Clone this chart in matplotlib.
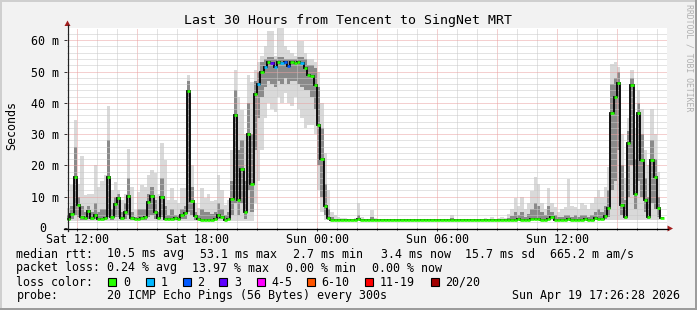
import numpy as np
import matplotlib
matplotlib.use("Agg")
import matplotlib.pyplot as plt
from matplotlib.patches import Rectangle, Polygon
from matplotlib.lines import Line2D

nan = np.nan

# ---------------------------------------------------------------- data
START_HOUR = 11.5     # Sat 11:30
STEP_MIN = 10         # one value per 10 minutes

# median rtt (ms)
median_sat_day = [2.8, 4.5, 16.4, 7.5, 3.5, 3.2, 5.4, 3.3, 4.0, 3.0,
                  3.0, 3.3, 16.2, 3.5, 7.7, 9.5, 3.3, 5.2, 10.2, 3.2,
                  3.0, 3.0, 3.2, 3.5, 8.4, 10.2, 5.2, 3.3, 10.0, 3.0,
                  3.0, 3.0, 3.2, 3.0, 4.0, 4.9, 43.8, 8.7, 3.7]
median_sat_eve = [3.0, 2.7, 2.7, 2.7, 2.7, 2.8, 4.3, 3.5, 2.7, 2.8,
                  9.4, 36.0, 9.0, 19.0, 5.0, 30.0, 14.0, 42.8, 46.0, 50.0,
                  51.5, 52.9, 52.8, 51.5, 52.9, 52.7, 52.9, 51.6, 52.9, 52.8,
                  52.9, 52.6, 51.0, 49.0, 48.5, 45.7, 33.0, 22.0, 6.9, 3.2]
median_night = [2.7, 2.7, 2.7, 2.7, 2.7, 2.7, 2.7, 2.7, 2.8, 2.7,
                2.7, 2.7, 2.7, 2.7, 2.7, 2.7, 2.7, 2.7, 2.7, 2.7,
                2.7, 2.7, 2.7, 2.7, 2.7, 2.7, 2.7, 2.7, 2.7, 2.7,
                2.7, 2.7, 2.7, 2.7, 2.7, 2.7, 2.7, 2.7, 2.7, 2.7,
                2.7, 2.7, 2.7, 2.7, 2.7, 2.7, 2.7, 2.7, 2.7, 2.7,
                2.7, 2.7, 2.7, 2.7, 2.7, 2.7, 2.8, 2.7, 2.7, 2.7,
                2.9, 3.0, 2.8, 2.7, 2.7, 2.9]
median_sun_noon = [3.4, 2.7, 2.7, 2.7, 2.7, 2.9, 2.7, 2.7, 2.7, 2.7,
                   2.9, 2.7, 2.7, 3.2, 2.8]
median_sun_pm = [3.0, 3.8, 6.3, 36.6, 41.9, 46.2, 7.3, 3.4, 27.2, 45.6,
                 11.0, 36.6, 21.7, 8.9, 3.6, 21.7, 16.4, 6.3, 3.2, nan]

# slowest ping (top of smoke)
hi_sat_day = [6.3, 13.7, 34.5, 14, 23, 10.5, 11, 11, 20, 13,
              15, 17, 39, 12, 14.8, 12, 9, 11, 25.4, 13,
              5.7, 11.6, 13.7, 13, 17, 18.5, 17.5, 11, 27, 21.7,
              9, 12.7, 9, 7.9, 12.7, 12.7, 49, 20, 8]
hi_sat_eve = [6.4, 12.8, 9.6, 11, 8.5, 9, 17, 12, 7.4, 9,
              25, 50.5, 42, 37.8, 30, 49, 46.8, 50.5, 53, 55,
              58, 63, 63, 55, 64, 64, 58, 57, 56, 55,
              59.6, 59.6, 56, 54, 54, 53, 50, 40, 24, 12]
hi_night = [5, 4, 3.5, 3.2, 3.2, 3.0, 3.0, 3.2, 8, 3.5,
            3.0, 3.0, 5.6, 3.2, 3.0, 3.0, 3.0, 3.0, 3.0, 3.0,
            3.0, 3.0, 3.0, 3.0, 3.0, 3.0, 3.0, 3.0, 3.0, 3.0,
            3.0, 3.0, 3.0, 3.0, 3.0, 3.0, 4.0, 3.0, 3.0, 3.0,
            3.0, 3.0, 3.0, 3.0, 3.0, 3.0, 3.2, 3.0, 3.5, 3.0,
            3.2, 3.5, 3.2, 4.5, 6, 9.5, 7, 10, 6, 8,
            11.7, 16.3, 14, 8, 6, 12.8]
hi_sun_noon = [8, 6.8, 5, 6, 6.8, 15.8, 7, 6.8, 6, 7.9,
               7.5, 6, 7.9, 10, 12]
hi_sun_pm = [10, 13, 19.6, 52.5, 53, 51.5, 30, 16, 35, 50.4,
             32, 44, 38, 25, 20, 38, 30, 18, 10, nan]

# upper quartile of pings
q3_sat_day = [4, 7, 26, 10, 7, 5, 7, 5, 8, 5,
              6, 6, 28, 6, 10, 11, 5, 8, 16, 5,
              3.5, 6, 6, 6, 11, 13, 9, 5, 16, 7,
              4, 6, 4, 4, 6, 7, 47, 13, 5]
q3_sat_eve = [4, 6, 5, 5, 4.5, 5, 8, 6, 4, 5,
              15, 44, 25, 28, 15, 40, 30, 47, 50, 53,
              54, 54.5, 54.5, 54, 54.5, 54.5, 54, 54, 54, 54,
              54.5, 54.5, 54, 52, 52, 51, 45, 32, 14, 6]
q3_night = [3.5, 3.0, 2.9, 2.9, 2.9, 2.9, 2.9, 2.9, 4, 2.9,
            2.9, 2.9, 3.5, 2.9, 2.9, 2.9, 2.9, 2.9, 2.9, 2.9,
            2.9, 2.9, 2.9, 2.9, 2.9, 2.9, 2.9, 2.9, 2.9, 2.9,
            2.9, 2.9, 2.9, 2.9, 2.9, 2.9, 3.2, 2.9, 2.9, 2.9,
            2.9, 2.9, 2.9, 2.9, 2.9, 2.9, 2.9, 2.9, 2.9, 2.9,
            2.9, 3.0, 2.9, 3.2, 3.8, 5, 4, 5, 3.5, 4.5,
            6, 8, 7, 5, 4, 7]
q3_sun_noon = [5, 4, 3.5, 3.5, 4, 4, 3.5, 4, 3.5, 4,
               4, 3.5, 4, 5, 6]
q3_sun_pm = [5, 7, 12, 46, 48, 50, 20, 9, 31, 48,
             22, 40, 30, 16, 10, 28, 22, 10, 5, nan]

# lower quartile of pings
q1_sat_day = [2.5, 2.8, 4, 3.5, 2.7, 2.6, 3, 2.6, 2.8, 2.5,
              2.5, 2.6, 3.5, 2.7, 3.5, 3.5, 2.6, 3, 4, 2.6,
              2.5, 2.5, 2.6, 2.7, 3.5, 4, 3, 2.6, 3.5, 2.5,
              2.5, 2.5, 2.6, 2.5, 2.8, 3, 5, 4, 2.7]
q1_sat_eve = [2.6, 2.5, 2.5, 2.5, 2.5, 2.5, 3, 2.8, 2.5, 2.5,
              4, 8, 4, 8, 3, 12, 5, 25, 35, 42,
              45, 47, 46, 45, 47, 46, 48, 46, 47, 47,
              46, 45, 44, 44, 42, 38, 20, 10, 4, 2.7]
q1_night = [2.5, 2.5, 2.5, 2.5, 2.5, 2.5, 2.5, 2.5, 2.5, 2.5,
            2.5, 2.5, 2.5, 2.5, 2.5, 2.5, 2.5, 2.5, 2.5, 2.5,
            2.5, 2.5, 2.5, 2.5, 2.5, 2.5, 2.5, 2.5, 2.5, 2.5,
            2.5, 2.5, 2.5, 2.5, 2.5, 2.5, 2.5, 2.5, 2.5, 2.5,
            2.5, 2.5, 2.5, 2.5, 2.5, 2.5, 2.5, 2.5, 2.5, 2.5,
            2.5, 2.5, 2.5, 2.5, 2.5, 2.5, 2.5, 2.5, 2.5, 2.5,
            2.5, 2.5, 2.5, 2.5, 2.5, 2.5]
q1_sun_noon = [2.8, 2.5, 2.5, 2.5, 2.5, 2.6, 2.5, 2.5, 2.5, 2.5,
               2.6, 2.5, 2.5, 2.7, 2.6]
q1_sun_pm = [2.7, 3, 3.5, 12, 15, 25, 4, 2.8, 10, 20,
             6, 15, 10, 5, 3, 8, 6, 3.5, 2.7, nan]

# fastest ping (bottom of smoke)
lo_sat_day = [2.3, 2.3, 2.3, 2.3, 2.3, 2.3, 2.3, 2.3, 2.3, 2.3,
              2.3, 2.3, 2.3, 2.3, 2.3, 2.3, 2.3, 2.3, 2.3, 2.3,
              2.3, 2.3, 2.3, 2.3, 2.3, 2.3, 2.3, 2.3, 2.3, 2.3,
              2.3, 2.3, 2.3, 2.3, 2.3, 2.3, 2.3, 2.3, 2.3]
lo_sat_eve = [2.3, 2.3, 2.3, 2.3, 2.3, 2.3, 2.3, 2.3, 2.3, 2.3,
              2.3, 2.3, 2.3, 2.3, 2.3, 2.3, 2.3, 8, 15, 25,
              35, 40, 38, 37, 42, 40, 43, 40, 39, 42,
              38, 35, 32, 33, 33, 30, 12, 5, 2.6, 2.4]
lo_night = [2.4, 2.4, 2.4, 2.4, 2.4, 2.4, 2.4, 2.4, 2.4, 2.4,
            2.4, 2.4, 2.4, 2.4, 2.4, 2.4, 2.4, 2.4, 2.4, 2.4,
            2.4, 2.4, 2.4, 2.4, 2.4, 2.4, 2.4, 2.4, 2.4, 2.4,
            2.4, 2.4, 2.4, 2.4, 2.4, 2.4, 2.4, 2.4, 2.4, 2.4,
            2.4, 2.4, 2.4, 2.4, 2.4, 2.4, 2.4, 2.4, 2.4, 2.4,
            2.4, 2.4, 2.4, 2.4, 2.4, 2.4, 2.4, 2.4, 2.4, 2.4,
            2.4, 2.4, 2.4, 2.4, 2.4, 2.4]
lo_sun_noon = [2.4, 2.4, 2.4, 2.4, 2.4, 2.4, 2.4, 2.4, 2.4, 2.4,
               2.4, 2.4, 2.4, 2.4, 2.4]
lo_sun_pm = [2.4, 2.4, 2.4, 2.4, 2.4, 2.4, 2.4, 2.4, 2.4, 2.4,
             2.4, 2.4, 2.4, 2.4, 2.4, 2.4, 2.4, 2.4, 2.4, nan]

# lost pings out of 20
loss_sat_day = [0, 0, 0, 0, 0, 0, 0, 0, 0, 0,
                0, 0, 0, 0, 0, 0, 0, 0, 0, 0,
                0, 0, 0, 0, 0, 0, 0, 0, 0, 0,
                0, 0, 0, 0, 0, 0, 0, 0, 0]
loss_sat_eve = [0, 0, 0, 0, 0, 0, 0, 0, 0, 0,
                0, 0, 0, 0, 0, 0, 0, 0, 1, 0,
                1, 0, 3, 1, 0, 1, 2, 2, 0, 0,
                0, 1, 0, 0, 0, 0, 0, 0, 0, 0]
loss_night = [0, 0, 0, 0, 0, 0, 0, 0, 0, 0,
              0, 0, 0, 0, 0, 0, 0, 0, 0, 0,
              0, 0, 0, 0, 0, 0, 0, 0, 0, 0,
              0, 0, 0, 0, 0, 0, 0, 0, 0, 0,
              0, 0, 0, 0, 0, 0, 0, 0, 0, 0,
              0, 0, 0, 0, 0, 0, 0, 0, 0, 0,
              0, 0, 0, 0, 0, 0]
loss_sun_noon = [0, 0, 0, 0, 0, 0, 0, 0, 0, 0, 0, 0, 0, 0, 0]
loss_sun_pm = [0, 0, 0, 0, 0, 0, 0, 0, 0, 0,
               0, 0, 0, 0, 0, 0, 0, 0, 0, 0]

x_tick_hours = [12, 18, 24, 30, 36]
x_tick_labels = ["Sat 12:00", "Sat 18:00", "Sun 00:00", "Sun 06:00", "Sun 12:00"]
y_tick_values = [0, 10, 20, 30, 40, 50, 60]
y_tick_labels = ["0", "10 m", "20 m", "30 m", "40 m", "50 m", "60 m"]

loss_labels = ["0", "1", "2", "3", "4-5", "6-10", "11-19", "20/20"]
loss_upper = [0, 1, 2, 3, 5, 10, 19, 20]
loss_hex = ["#26ff00", "#00b8ff", "#0059ff", "#5e00ff",
            "#ff00ff", "#ff5500", "#ff0000", "#a10000"]

title = "Last 30 Hours from Tencent to SingNet MRT"
stats_rtt = [("median rtt:", 16.5), ("10.5 ms avg", 107.0), ("53.1 ms max", 200.0),
             ("2.7 ms min", 293.0), ("3.4 ms now", 381.0), ("15.7 ms sd", 465.0),
             ("665.2 m am/s", 550.5)]
stats_loss = [("packet loss:", 16.5), ("0.24 % avg", 107.0), ("13.97 % max", 192.5),
              ("0.00 % min", 286.0), ("0.00 % now", 372.5)]
probe_text = "20 ICMP Echo Pings (56 Bytes) every 300s"
stamp_text = "Sun Apr 19 17:26:28 2026"

# ---------------------------------------------------------------- arrays
median = np.array(median_sat_day + median_sat_eve + median_night + median_sun_noon + median_sun_pm, float)
hi = np.array(hi_sat_day + hi_sat_eve + hi_night + hi_sun_noon + hi_sun_pm, float)
q3 = np.array(q3_sat_day + q3_sat_eve + q3_night + q3_sun_noon + q3_sun_pm, float)
q1 = np.array(q1_sat_day + q1_sat_eve + q1_night + q1_sun_noon + q1_sun_pm, float)
lo = np.array(lo_sat_day + lo_sat_eve + lo_night + lo_sun_noon + lo_sun_pm, float)
loss = np.array(loss_sat_day + loss_sat_eve + loss_night + loss_sun_noon + loss_sun_pm, float)

n = len(median)
t_edges = START_HOUR + np.arange(n + 1) * STEP_MIN / 60.0


def loss_color(v):
    for up, c in zip(loss_upper, loss_hex):
        if v <= up:
            return c
    return loss_hex[-1]


# ---------------------------------------------------------------- figure
W, H = 697, 310
plt.rcParams['font.family'] = ['DejaVu Sans Mono']
FS = 8.37


def fx(px):
    return px / W


def fy(py):
    return 1 - py / H


fig = plt.figure(figsize=(W / 100, H / 100), dpi=100, facecolor="#f2f2f2")

# 3-D frame
fig.add_artist(Rectangle((0, fy(2)), 1, 2 / H, transform=fig.transFigure, color="#cfcfcf", lw=0))
fig.add_artist(Rectangle((0, 0), 2 / W, 1, transform=fig.transFigure, color="#cfcfcf", lw=0))
fig.add_artist(Rectangle((0, 0), 1, 2 / H, transform=fig.transFigure, color="#9c9c9c", lw=0))
fig.add_artist(Rectangle((fx(695), 0), 2 / W, 1, transform=fig.transFigure, color="#9c9c9c", lw=0))

ax = fig.add_axes([fx(67), fy(228), 600 / W, 200 / H])
ax.set_facecolor("white")
ax.set_xlim(START_HOUR, START_HOUR + 30)
ax.set_ylim(0, 63.9)
for s in ax.spines.values():
    s.set_visible(False)


def ext(a):
    return np.append(a, a[-1])


# smoke
ax.fill_between(t_edges, ext(lo), ext(hi), step="post", color="#d9d9d9", lw=0, zorder=1)
ax.fill_between(t_edges, ext(q1), ext(q3), step="post", color="#8a8a8a", lw=0, zorder=2)

# grid
dot = (0, (1, 1))
for h in range(12, 42):
    major = (h - 12) % 3 == 0
    ax.axvline(h, color="#eaa0a0" if major else "#c8c8c8", lw=0.72, ls=dot, zorder=3)
for v in range(2, 64, 2):
    major = v % 10 == 0
    ax.axhline(v, color="#eaa0a0" if major else "#c8c8c8", lw=0.72, ls=dot, zorder=3)

# median line + loss coloured median marks
ax.stairs(median, t_edges, baseline=None, color="black", lw=1.3, zorder=4)
ok = ~np.isnan(median)
ax.hlines(median[ok], t_edges[:-1][ok], t_edges[1:][ok],
          colors=[loss_color(v) for v in loss[ok]], lw=1.9, zorder=5, capstyle="butt")

# ticks (the zero label is placed separately, aligned under the digits of "10 m")
ax.set_xticks(x_tick_hours, x_tick_labels)
ax.set_xticks(range(12, 42), minor=True)
ax.set_yticks(y_tick_values, [""] + y_tick_labels[1:])
ax.tick_params(axis="x", which="both", length=2.0, width=0.7, direction="out",
               pad=1.4, labelsize=FS, color="#333333")
ax.tick_params(axis="x", which="minor", length=1.5)
ax.tick_params(axis="y", which="major", length=2.0, width=0.7, direction="out",
               pad=3.6, labelsize=FS, color="#333333")
fig.text(fx(46.3), fy(227.3), y_tick_labels[0], ha="right", va="center_baseline", fontsize=FS)

# axis lines and arrows
fig.add_artist(Line2D([fx(64), fx(668)], [fy(228.5), fy(228.5)], transform=fig.transFigure,
                      color="black", lw=0.9))
fig.add_artist(Line2D([fx(67.5), fx(67.5)], [fy(231), fy(25)], transform=fig.transFigure,
                      color="#222222", lw=0.9))
arrow_c = "#a31d1d"
fig.add_artist(Polygon([(fx(667.5), fy(225.5)), (fx(667.5), fy(231.5)), (fx(673), fy(228.5))],
                       closed=True, transform=fig.transFigure, color=arrow_c, lw=0))
fig.add_artist(Polygon([(fx(64.5), fy(26)), (fx(70.5), fy(26)), (fx(67.5), fy(20.5))],
                       closed=True, transform=fig.transFigure, color=arrow_c, lw=0))

# texts
fig.text(fx(347.5), fy(24), title, ha="center", va="baseline", fontsize=9.57, color="black")
fig.text(fx(11.3), fy(125.5), "Seconds", rotation=90, ha="center", va="center", fontsize=FS)
fig.text(fx(689.5), fy(4), "RRDTOOL / TOBI OETIKER", rotation=270, ha="center", va="top",
         fontsize=5.9, color="#b0b0b0")

for txt, x in stats_rtt:
    fig.text(fx(x), fy(257.5), txt, ha="left", va="baseline", fontsize=FS)
for txt, x in stats_loss:
    fig.text(fx(x), fy(271.5), txt, ha="left", va="baseline", fontsize=FS)

fig.text(fx(16.5), fy(285.5), "loss color:", ha="left", va="baseline", fontsize=FS)
box_x = [108.3, 145.7, 182.7, 219.3, 256.7, 306.7, 365.0, 430.7]
for bx, lab, col in zip(box_x, loss_labels, loss_hex):
    fig.add_artist(Rectangle((fx(bx), fy(285.7)), 8 / W, 8 / H, transform=fig.transFigure,
                             facecolor=col, edgecolor="black", lw=0.8))
    fig.text(fx(bx + 14.5), fy(285.5), lab, ha="left", va="baseline", fontsize=FS)

fig.text(fx(16.5), fy(299.5), "probe:", ha="left", va="baseline", fontsize=FS)
fig.text(fx(107.0), fy(299.5), probe_text, ha="left", va="baseline", fontsize=FS)
fig.text(fx(680.5), fy(299.5), stamp_text, ha="right", va="baseline", fontsize=FS)

fig.savefig("out.png", dpi=100, facecolor=fig.get_facecolor())
